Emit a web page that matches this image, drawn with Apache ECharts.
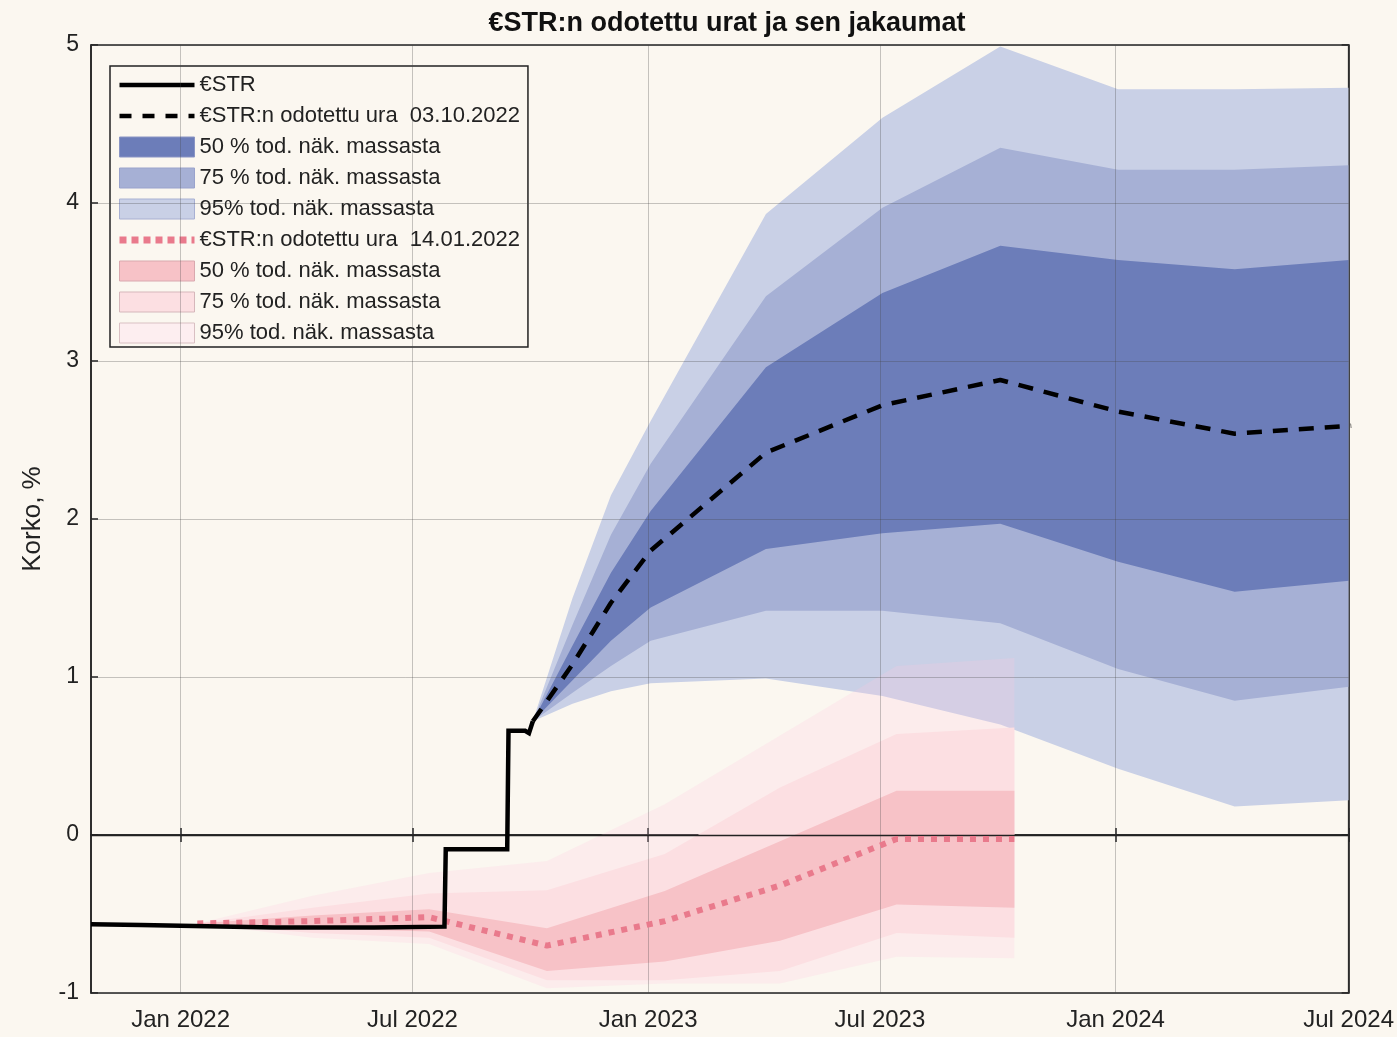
<!DOCTYPE html>
<html>
<head>
<meta charset="utf-8">
<script src="https://cdn.jsdelivr.net/npm/echarts@6/dist/echarts.min.js"></script>
<style>
html,body{margin:0;padding:0;background:#fbf7f0;}
#chart{width:1397px;height:1037px;}
</style>
</head>
<body>
<div id="chart"></div>
<script>
// ---- realised €STR ----
const estrDates  = ['2021-10-23','2021-12-01','2022-01-01','2022-03-15','2022-06-01','2022-07-26','2022-07-27','2022-09-13','2022-09-14','2022-09-27','2022-09-30','2022-10-03'];
const estrValues = [-0.565,-0.57,-0.575,-0.585,-0.585,-0.58,-0.09,-0.09,0.66,0.66,0.645,0.72];

// ---- expected path 03.10.2022 and its distribution ----
const fcDates  = ['2022-10-03','2022-11-03','2022-12-03','2023-01-03','2023-04-03','2023-07-03','2023-10-03','2024-01-03','2024-04-03','2024-07-03'];
const fcMedian = [0.72,1.08,1.47,1.80,2.42,2.72,2.88,2.68,2.54,2.59];
const fc50Lo   = [0.72,0.98,1.23,1.44,1.81,1.91,1.97,1.73,1.54,1.61];
const fc50Hi   = [0.72,1.20,1.66,2.05,2.96,3.43,3.73,3.64,3.58,3.64];
const fc75Lo   = [0.72,0.90,1.07,1.23,1.42,1.42,1.34,1.05,0.85,0.94];
const fc75Hi   = [0.72,1.33,1.90,2.35,3.41,3.97,4.35,4.21,4.21,4.24];
const fc95Lo   = [0.72,0.83,0.91,0.96,0.99,0.88,0.70,0.42,0.18,0.22];
const fc95Hi   = [0.72,1.50,2.15,2.62,3.93,4.54,4.99,4.72,4.72,4.73];

// ---- expected path 14.01.2022 and its distribution ----
const oldDates  = ['2022-01-14','2022-04-14','2022-07-14','2022-10-14','2023-01-14','2023-04-14','2023-07-14','2023-10-14'];
const oldMedian = [-0.56,-0.545,-0.52,-0.70,-0.545,-0.32,-0.025,-0.025];
const old50Lo   = [-0.56,-0.59,-0.61,-0.86,-0.80,-0.67,-0.44,-0.46];
const old50Hi   = [-0.56,-0.51,-0.47,-0.59,-0.355,-0.04,0.28,0.28];
const old75Lo   = [-0.56,-0.62,-0.65,-0.92,-0.92,-0.86,-0.62,-0.65];
const old75Hi   = [-0.56,-0.46,-0.37,-0.35,-0.12,0.30,0.64,0.68];
const old95Lo   = [-0.56,-0.65,-0.69,-0.97,-0.94,-0.94,-0.77,-0.78];
const old95Hi   = [-0.56,-0.385,-0.24,-0.165,0.195,0.63,1.07,1.12];

// ---- ticks ----
const xTickDates  = ['2022-01-01','2022-07-01','2023-01-01','2023-07-01','2024-01-01','2024-07-01'];
const xTickLabels = ['Jan 2022','Jul 2022','Jan 2023','Jul 2023','Jan 2024','Jul 2024'];
const yTicks = [-1,0,1,2,3,4,5];
const xMinDate = '2021-10-23';
const xMaxDate = '2024-07-01';

const ts = d => new Date(d + 'T00:00:00').getTime();
const xTickTs = xTickDates.map(ts);
const FONT = 'Liberation Sans, Arial, sans-serif';

const N = {
  estr: '€STR',
  fc: '€STR:n odotettu ura  03.10.2022',
  b50: '50 % tod. näk. massasta',
  b75: '75 % tod. näk. massasta',
  b95: '95% tod. näk. massasta',
  old: '€STR:n odotettu ura  14.01.2022',
  p50: '50 % tod. näk. massasta\u200b',
  p75: '75 % tod. näk. massasta\u200b',
  p95: '95% tod. näk. massasta\u200b'
};

// band polygon drawn through the cartesian coordinate system
function band(name, dates, lo, hi, color, z) {
  const data = dates.map((d,i)=>[ts(d), lo[i], hi[i]]);
  return {
    type:'custom', name: name, data: data, z: z, silent:true, animation:false, clip:true,
    encode:{x:0, y:[1,2]},
    itemStyle:{color: color},
    renderItem: function (params, api) {
      if (params.dataIndex !== 0) return null;
      const pts = [];
      for (let i = 0; i < data.length; i++) pts.push(api.coord([data[i][0], data[i][2]]));
      for (let i = data.length - 1; i >= 0; i--) pts.push(api.coord([data[i][0], data[i][1]]));
      const cs = params.coordSys;
      return {
        type:'polygon',
        shape:{points: pts},
        style:{fill: color, stroke:null},
        clipPath:{type:'rect', shape:{x: cs.x, y: cs.y, width: cs.width, height: cs.height}}
      };
    }
  };
}

const C = {
  b50:'#6c7db9', b75:'#a6b0d5', b95:'#c9d0e6',
  p50:'#f7c2c7', p75:'#fcdfe2', p95:'rgba(255,200,225,0.22)', p95leg:'#fdeef0',
  pinkLine:'#e97a8c'
};

const series = [
  band(N.b95, fcDates, fc95Lo, fc95Hi, C.b95, 1),
  band(N.b75, fcDates, fc75Lo, fc75Hi, C.b75, 1),
  band(N.b50, fcDates, fc50Lo, fc50Hi, C.b50, 1),
  band(N.p95, oldDates, old95Lo, old95Hi, C.p95, 2),
  band(N.p75, oldDates, old75Lo, old75Hi, C.p75, 2),
  band(N.p50, oldDates, old50Lo, old50Hi, C.p50, 2),
  { type:'line', name:'grid', data:[[xTickTs[0], 0]], symbol:'none', silent:true,
    lineStyle:{opacity:0}, z:3, animation:false,
    markLine:{ silent:true, symbol:['none','none'], label:{show:false}, animation:false,
      lineStyle:{color:'rgba(70,70,70,0.30)', width:1, type:'solid'},
      data: xTickTs.map(t=>({xAxis:t})).concat(yTicks.filter(v=>v!==0).map(v=>({yAxis:v})))
    } },
  { type:'line', name:'zero', data:[[xTickTs[0], 0]], symbol:'none', silent:true,
    lineStyle:{opacity:0}, z:4, animation:false,
    markLine:{ silent:true, symbol:['none','none'], label:{show:false}, animation:false,
      lineStyle:{color:'#222', width:1.4, type:'solid'}, data:[{yAxis:0}] } },
  { type:'line', name:N.old, data: oldDates.map((d,i)=>[ts(d), oldMedian[i]]), symbol:'none',
    lineStyle:{color:C.pinkLine, width:6, type:[6,7], cap:'butt'}, itemStyle:{color:C.pinkLine}, z:6, animation:false },
  { type:'line', name:N.estr, data: estrDates.map((d,i)=>[ts(d), estrValues[i]]), symbol:'none',
    lineStyle:{color:'#000', width:4.5, join:'miter'}, itemStyle:{color:'#000'}, z:7, animation:false },
  { type:'line', name:N.fc, data: fcDates.map((d,i)=>[ts(d), fcMedian[i]]), symbol:'none',
    lineStyle:{color:'#000', width:4.5, type:[15,11], cap:'butt'}, itemStyle:{color:'#000'}, z:8, animation:false }
];

const xBase = {
  type:'value', min: ts(xMinDate), max: ts(xMaxDate),
  axisLine:{show:true, lineStyle:{color:'#222', width:1.5}},
  axisTick:{show:true, inside:true, length:7, customValues:xTickTs, lineStyle:{color:'#222', width:1.5}},
  splitLine:{show:false}
};
const yBase = {
  type:'value', min:-1, max:5, interval:1,
  axisLine:{show:true, lineStyle:{color:'#222', width:1.5}},
  axisTick:{show:true, inside:true, length:7, lineStyle:{color:'#222', width:1.5}},
  splitLine:{show:false}
};

const chart = echarts.init(document.getElementById('chart'), null, {renderer:'canvas'});
chart.setOption({
  backgroundColor:'#fbf7f0',
  animation:false,
  textStyle:{fontFamily:FONT},
  title:{
    text:'€STR:n odotettu urat ja sen jakaumat',
    left:722, top:5, textAlign:'center',
    textStyle:{fontSize:27, fontWeight:'bold', color:'#111', fontFamily:FONT}
  },
  grid:{left:91, right:41, top:45, bottom:44, show:true, borderColor:'#222', borderWidth:1.5, backgroundColor:'#fbf7f0'},
  legend:{
    orient:'vertical', left:110, top:66,
    itemWidth:75, itemHeight:20, itemGap:9,
    padding:[8,8,3,6],
    backgroundColor:'#fbf7f0', borderColor:'#222', borderWidth:1.5, borderRadius:0,
    selectedMode:false,
    textStyle:{fontSize:22, color:'#222', fontFamily:FONT},
    formatter: n => n.replace('\u200b',''),
    data:[
      {name:N.estr, itemStyle:{opacity:0}, lineStyle:{color:'#000', width:4.5, type:'solid'}},
      {name:N.fc, itemStyle:{opacity:0}, lineStyle:{color:'#000', width:4.5, type:[12,11], cap:'butt'}},
      {name:N.b50, icon:'rect', itemStyle:{color:C.b50, borderColor:'#8a95c4', borderWidth:1}},
      {name:N.b75, icon:'rect', itemStyle:{color:C.b75, borderColor:'#9aa3cc', borderWidth:1}},
      {name:N.b95, icon:'rect', itemStyle:{color:C.b95, borderColor:'#a8b0d3', borderWidth:1}},
      {name:N.old, itemStyle:{opacity:0}, lineStyle:{color:C.pinkLine, width:7, type:[7,5], cap:'butt'}},
      {name:N.p50, icon:'rect', itemStyle:{color:C.p50, borderColor:'#d9a8ae', borderWidth:1}},
      {name:N.p75, icon:'rect', itemStyle:{color:C.p75, borderColor:'#d6b7bb', borderWidth:1}},
      {name:N.p95, icon:'rect', itemStyle:{color:C.p95leg, borderColor:'#d9c0c3', borderWidth:1}}
    ]
  },
  xAxis:[
    Object.assign({}, xBase, {
      position:'bottom',
      axisLabel:{customValues:xTickTs, fontSize:24, color:'#222', margin:15, fontFamily:FONT,
        formatter: v => { const i = xTickTs.indexOf(v); return i >= 0 ? xTickLabels[i] : ''; } }
    }),
    Object.assign({}, xBase, { position:'top', axisLabel:{show:false} })
  ],
  yAxis:[
    Object.assign({}, yBase, {
      position:'left',
      name:'Korko, %', nameLocation:'middle', nameGap:45,
      nameTextStyle:{fontSize:26, color:'#222', fontFamily:FONT},
      axisLabel:{fontSize:23, color:'#222', margin:12, fontFamily:FONT}
    }),
    Object.assign({}, yBase, { position:'right', axisLabel:{show:false} })
  ],
  series: series
});
</script>
</body>
</html>
